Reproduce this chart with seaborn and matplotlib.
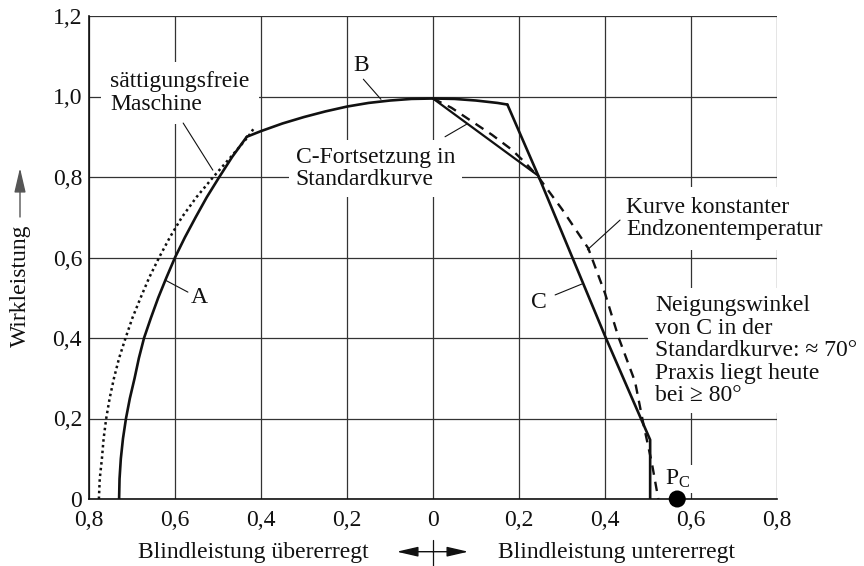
import numpy as np
import pandas as pd
import matplotlib
matplotlib.use("Agg")
import matplotlib.pyplot as plt
import seaborn as sns

# ---- data ----
# Solid operating-limit curve: A, B, C
curveA_x = [-0.730, -0.729, -0.726, -0.721, -0.714, -0.705, -0.694, -0.684, -0.672, -0.656,
            -0.639, -0.620, -0.600, -0.577, -0.552, -0.526, -0.497, -0.467, -0.433]
curveA_y = [0.000, 0.050, 0.100, 0.150, 0.200, 0.250, 0.300, 0.350, 0.400, 0.450,
            0.500, 0.550, 0.600, 0.650, 0.700, 0.750, 0.800, 0.850, 0.900]
curveB_x = [-0.433, -0.400, -0.350, -0.300, -0.250, -0.200, -0.150, -0.100, -0.050, 0.000,
            0.050, 0.100, 0.150, 0.173]
curveB_y = [0.900, 0.914, 0.933, 0.949, 0.963, 0.975, 0.984, 0.990, 0.994, 0.995,
            0.994, 0.990, 0.984, 0.980]
curveC_x = [0.173, 0.245, 0.402, 0.505, 0.505]
curveC_y = [0.980, 0.803, 0.400, 0.147, 0.000]
# C continuation in standard curve
cfort_x = [0.000, 0.245]
cfort_y = [0.995, 0.803]
# Saturation-free machine (dotted)
dotted_x = [-0.777, -0.775, -0.770, -0.766, -0.760, -0.752, -0.742, -0.730, -0.715, -0.699,
            -0.680, -0.660, -0.637, -0.612, -0.584, -0.550, -0.511, -0.470, -0.430, -0.414]
dotted_y = [0.000, 0.050, 0.100, 0.150, 0.200, 0.250, 0.300, 0.350, 0.400, 0.450,
            0.500, 0.550, 0.600, 0.650, 0.700, 0.750, 0.800, 0.850, 0.900, 0.925]
# Curve of constant end-zone temperature (dashed)
dashed_x = [0.000, 0.043, 0.071, 0.137, 0.183, 0.215, 0.245, 0.300, 0.361, 0.400, 0.431,
            0.470, 0.489, 0.509, 0.524]
dashed_y = [0.995, 0.972, 0.952, 0.905, 0.868, 0.835, 0.800, 0.720, 0.623, 0.511, 0.403,
            0.291, 0.188, 0.089, 0.000]
# Point P_C
pc_x = [0.568]
pc_y = [0.0]

xticks = [-0.8, -0.6, -0.4, -0.2, 0.0, 0.2, 0.4, 0.6, 0.8]
xticklabels = ["0,8", "0,6", "0,4", "0,2", "0", "0,2", "0,4", "0,6", "0,8"]
yticks = [0.0, 0.2, 0.4, 0.6, 0.8, 1.0, 1.2]
yticklabels = ["0", "0,2", "0,4", "0,6", "0,8", "1,0", "1,2"]

# ---- style ----
sns.set_theme(style="white")
plt.rcParams["font.family"] = ["Liberation Serif", "DejaVu Serif"]
plt.rcParams["mathtext.fontset"] = "custom"
plt.rcParams["mathtext.rm"] = "Liberation Serif"
plt.rcParams["mathtext.it"] = "Liberation Serif:italic"
FS = 17
INK = "#111111"

fig = plt.figure(figsize=(8.64, 5.66), dpi=100)
ax = fig.add_axes([89 / 864, 67 / 566, (777 - 89) / 864, (499 - 16) / 566])

def frame(x, y):
    return pd.DataFrame({"x": x, "y": y})

lk = dict(sort=False, estimator=None, ax=ax, legend=False)
sns.lineplot(data=frame(curveA_x, curveA_y), x="x", y="y", color=INK, lw=1.9, **lk)
sns.lineplot(data=frame(curveB_x, curveB_y), x="x", y="y", color=INK, lw=1.9, **lk)
sns.lineplot(data=frame(curveC_x, curveC_y), x="x", y="y", color=INK, lw=1.9, **lk)
sns.lineplot(data=frame(cfort_x, cfort_y), x="x", y="y", color=INK, lw=1.6, **lk)
l_dot = sns.lineplot(data=frame(dotted_x, dotted_y), x="x", y="y", color=INK,
                     lw=1.8, **lk).lines[-1]
l_dot.set_linestyle((0, (1, 1.3)))
l_dash = sns.lineplot(data=frame(dashed_x, dashed_y), x="x", y="y", color=INK,
                      lw=1.7, **lk).lines[-1]
l_dash.set_linestyle((0, (4, 3)))
sns.scatterplot(x=pc_x, y=pc_y, ax=ax, color="black", s=150, edgecolor="none",
                clip_on=False, zorder=6)

ax.set_xlim(-0.8, 0.8)
ax.set_ylim(0, 1.2)
ax.set_xticks(xticks)
ax.set_xticklabels(xticklabels, fontsize=FS, color=INK)
ax.set_yticks(yticks)
ax.set_yticklabels(yticklabels, fontsize=FS, color=INK)
ax.tick_params(axis="x", length=0, pad=8)
ax.tick_params(axis="y", length=0, pad=5)
ax.set_xlabel("")
ax.set_ylabel("")
ax.grid(True, color="#333333", lw=0.9)
ax.set_axisbelow(True)
for s in ["top", "right"]:
    ax.spines[s].set_visible(False)
for s in ["left", "bottom"]:
    ax.spines[s].set_color(INK)
    ax.spines[s].set_linewidth(1.2)

box = dict(facecolor="white", edgecolor="none", boxstyle="square,pad=0.4")
tk = dict(fontsize=FS, color=INK, zorder=4)
LS = 1.1

ax.text(-0.751, 1.063, "sättigungsfreie\nMaschine", ha="left", va="top",
        linespacing=LS, bbox=box, **tk)
ax.text(-0.319, 0.875, "C-Fortsetzung in\nStandardkurve", ha="left", va="top",
        linespacing=LS, bbox=dict(facecolor="white", edgecolor="none", boxstyle="square,pad=0.3"),
        **tk)
ax.text(0.450, 0.751, "Kurve konstanter\nEndzonentemperatur", ha="left", va="top",
        linespacing=LS, bbox=box, **tk)
ax.text(0.516, 0.507, "Neigungswinkel\nvon C in der\nStandardkurve: ≈ 70°\nPraxis liegt heute\nbei ≥ 80°",
        ha="left", va="top", linespacing=LS,
        bbox=dict(facecolor="white", edgecolor="none", boxstyle="square,pad=0.3"), **tk)
ax.text(-0.167, 1.076, "B", ha="center", va="center", **tk)
ax.text(-0.544, 0.500, "A", ha="center", va="center", **tk)
ax.text(0.247, 0.488, "C", ha="center", va="center", **tk)
ax.text(0.540, 0.035, r"P$_{\mathrm{C}}$", ha="left", va="baseline",
        bbox=dict(facecolor="white", edgecolor="none", boxstyle="square,pad=0.12"), **tk)

leaders = [((-0.581, 0.934), (-0.512, 0.817)),
           ((-0.570, 0.514), (-0.623, 0.544)),
           ((-0.162, 1.043), (-0.121, 0.993)),
           ((0.028, 0.900), (0.078, 0.931)),
           ((0.284, 0.507), (0.346, 0.534)),
           ((0.435, 0.693), (0.359, 0.619))]
for (a, b) in leaders:
    ax.annotate("", xy=b, xytext=a,
                arrowprops=dict(arrowstyle="-", lw=0.8, color=INK,
                                shrinkA=0, shrinkB=0), zorder=5)

# axis captions
fig.text(253.5 / 864, 1 - 558 / 566, "Blindleistung übererregt", ha="center", va="baseline",
         fontsize=FS, color=INK)
fig.text(617 / 864, 1 - 558 / 566, "Blindleistung untererregt", ha="center", va="baseline",
         fontsize=FS, color=INK)
yc = 1 - 551.7 / 566
ap = dict(arrowstyle="-|>,head_length=1.3,head_width=0.3", lw=1.0, color=INK,
          mutation_scale=10, shrinkA=0, shrinkB=0)
fig.add_artist(matplotlib.patches.FancyArrowPatch((433 / 864, yc), (396.7 / 864, yc),
               transform=fig.transFigure, **ap))
fig.add_artist(matplotlib.patches.FancyArrowPatch((433 / 864, yc), (468.3 / 864, yc),
               transform=fig.transFigure, **ap))
fig.add_artist(matplotlib.lines.Line2D([433 / 864, 433 / 864], [1 - 540 / 566, 0.0],
               transform=fig.transFigure, color=INK, lw=0.9))

fig.text(20 / 864, 1 - 286 / 566, "Wirkleistung", rotation=90, ha="center", va="center",
         fontsize=FS, color=INK)
fig.add_artist(matplotlib.patches.FancyArrowPatch((20 / 864, 1 - 217 / 566), (20 / 864, 1 - 168 / 566),
               transform=fig.transFigure,
               arrowstyle="-|>,head_length=1.5,head_width=0.35", lw=1.0, color="#555555",
               mutation_scale=10, shrinkA=0, shrinkB=0))

fig.savefig("out.png", dpi=100)
